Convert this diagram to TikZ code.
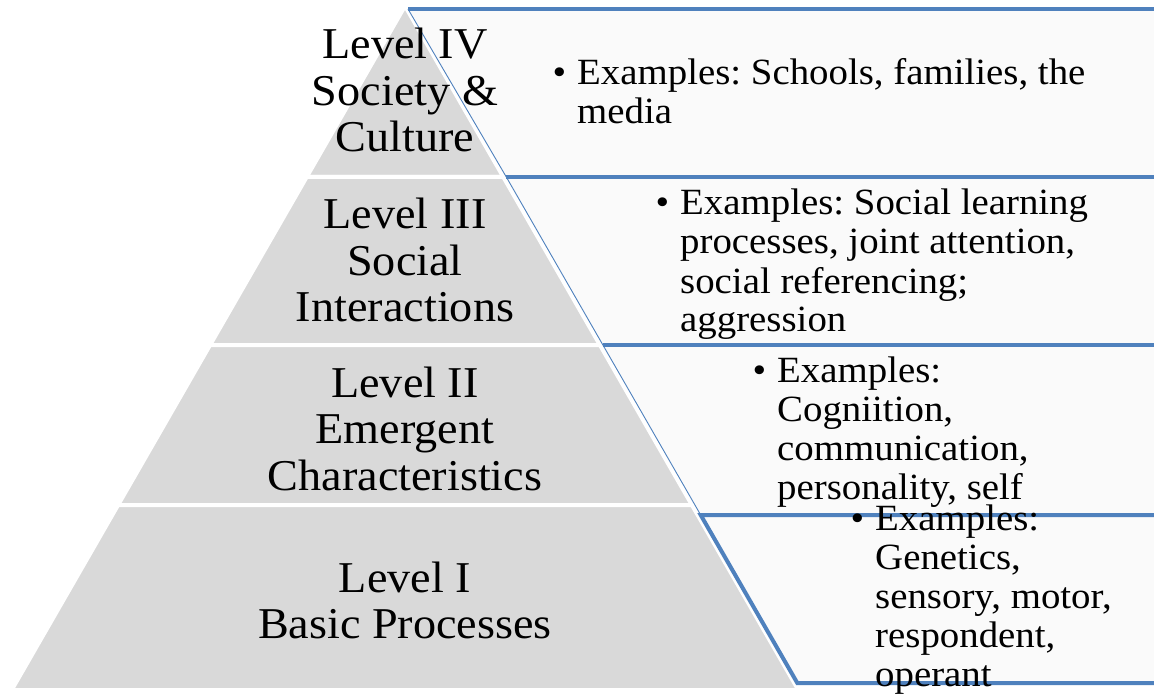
\documentclass[tikz,border=0pt]{standalone}
\usepackage{fontspec}
\setmainfont{Liberation Serif}[FakeStretch=1.05]
\frenchspacing

\definecolor{levelgray}{RGB}{217,217,217}
\definecolor{panelfill}{RGB}{250,250,250}
\definecolor{rulecolor}{RGB}{79,129,189}

\begin{document}
\begin{tikzpicture}[x=1pt,y=-1pt,
  level/.style={fill=levelgray,draw=white,line width=4pt,line join=miter},
  panel/.style={fill=panelfill},
  thickrule/.style={draw=rulecolor,line width=4pt,line cap=butt},
  thinrule/.style={draw=rulecolor,line width=0.9pt},
  leveltext/.style={font=\fontsize{44}{46.5}\selectfont,anchor=base,inner sep=0pt},
  extext/.style={font=\fontsize{37}{39}\selectfont,anchor=base west,inner sep=0pt}]

\useasboundingbox (0,0) rectangle (1154,695);

% text panels to the right of the pyramid
\path[panel] (408,9) -- (1160,9) -- (1160,177) -- (506.3,177) -- cycle;
\path[panel] (506.3,177) -- (1160,177) -- (1160,345) -- (602.9,345) -- cycle;
\path[panel] (602.9,345) -- (1160,345) -- (1160,515) -- (700.7,515) -- cycle;
\path[panel] (700.7,515) -- (1160,515) -- (1160,683) -- (797.3,683) -- cycle;

% pyramid levels
\path[level] (405,6) -- (503.3,177) -- (306.7,177) -- cycle;
\path[level] (306.7,177) -- (503.3,177) -- (599.9,345) -- (210.1,345) -- cycle;
\path[level] (210.1,345) -- (599.9,345) -- (691.9,505) -- (118.1,505) -- cycle;
\path[level] (118.1,505) -- (691.9,505) -- (798.3,690) -- (11.7,690) -- cycle;

% panel outlines
\coordinate (p4a) at (408,9);     \coordinate (p4b) at (506.3,177);
\coordinate (p3b) at (602.9,345); \coordinate (p2b) at (700.7,515);
\coordinate (p1b) at (797.3,683);
\path[thinrule] (p4a) -- (p4b);
\path[thinrule] (p4b) -- (p3b);
\path[thinrule] (p3b) -- (p2b);
\path[thickrule] (p4a) -- (1160,9);
\path[thickrule] (p4b) -- (1160,177);
\path[thickrule] (p3b) -- (1160,345);
\path[thickrule] (1160,515) -- (p2b) -- (p1b) -- (1160,683);

% level titles
\node[leveltext] (l4) at (405,59)  {\begin{tabular}[t]{@{}c@{}}Level IV\\Society \&\\Culture\end{tabular}};
\node[leveltext] (l3) at (405,229) {\begin{tabular}[t]{@{}c@{}}Level III\\Social\\Interactions\end{tabular}};
\node[leveltext] (l2) at (405,397) {\begin{tabular}[t]{@{}c@{}}Level II\\Emergent\\Characteristics\end{tabular}};
\node[leveltext] (l1) at (405,592) {\begin{tabular}[t]{@{}c@{}}Level I\\Basic Processes\end{tabular}};

% examples
\newcommand{\bul}{\llap{\textbullet\hspace{11pt}}}
\node[extext] (e4) at (577,85)  {\begin{tabular}[t]{@{}l@{}}\bul Examples: Schools, families, the\\media\end{tabular}};
\node[extext] (e3) at (680,215) {\begin{tabular}[t]{@{}l@{}}\bul Examples: Social learning\\processes, joint attention,\\social referencing;\\aggression\end{tabular}};
\node[extext] (e2) at (777,382) {\begin{tabular}[t]{@{}l@{}}\bul Examples:\\Cogniition,\\communication,\\personality, self\end{tabular}};
\node[extext] (e1) at (875,530) {\begin{tabular}[t]{@{}l@{}}\bul Examples:\\Genetics,\\sensory, motor,\\respondent,\\operant\end{tabular}};

\end{tikzpicture}
\end{document}
